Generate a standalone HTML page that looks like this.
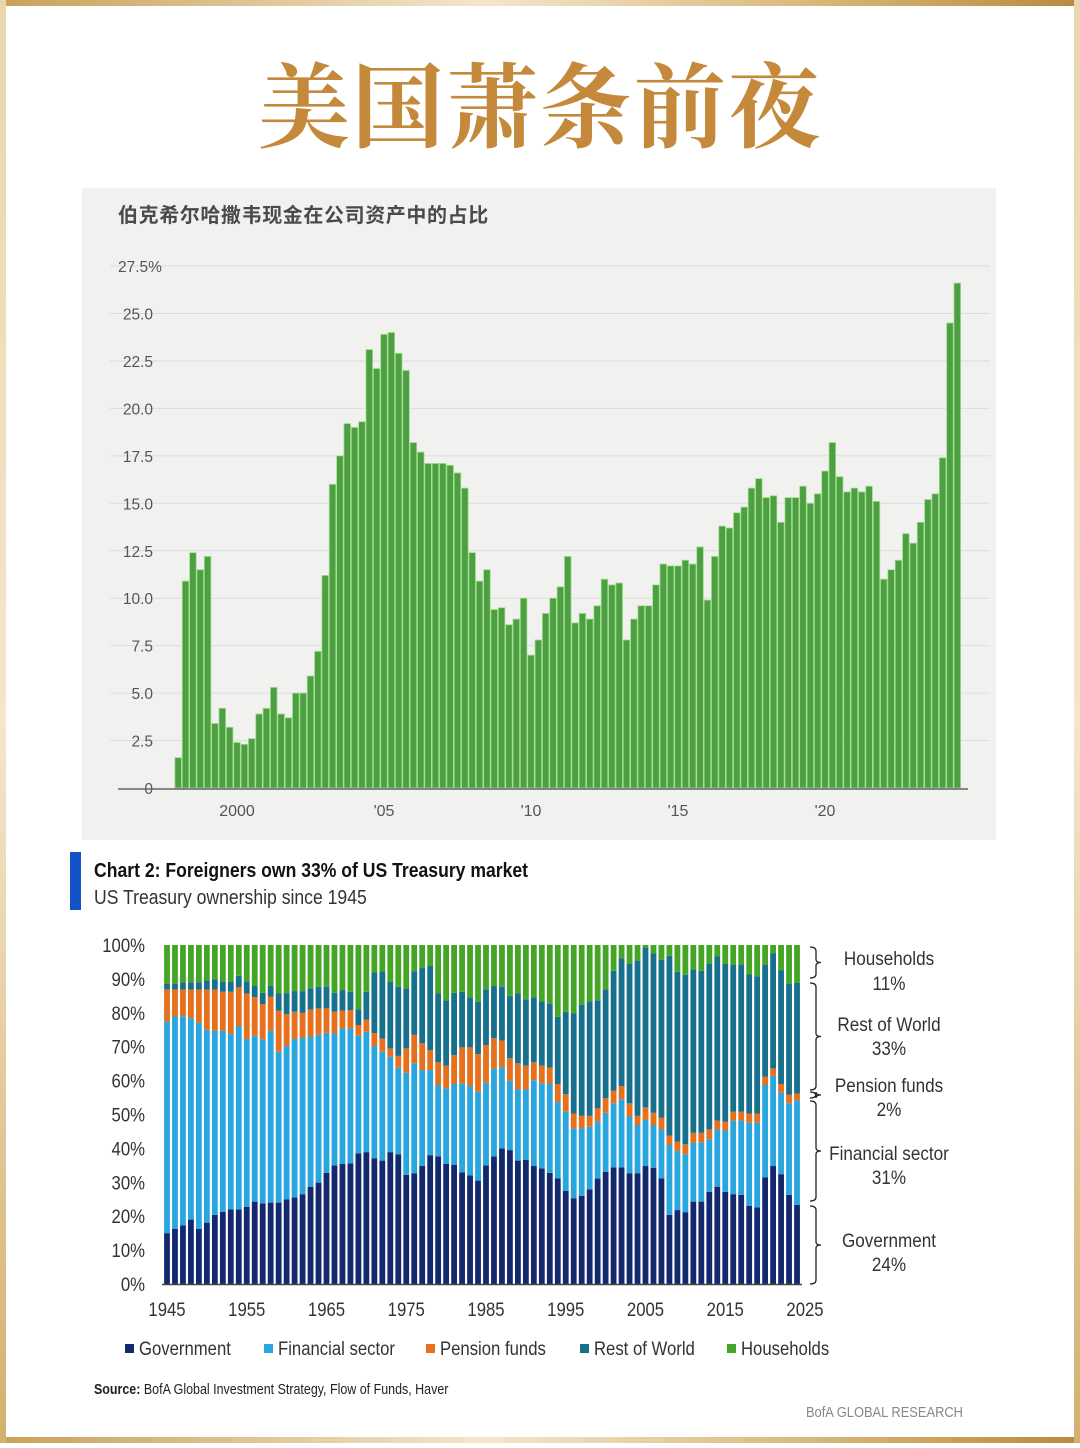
<!DOCTYPE html>
<html><head><meta charset="utf-8"><title>美国萧条前夜</title>
<style>
html,body{margin:0;padding:0;background:#fff;}
body{width:1080px;height:1443px;overflow:hidden;}
svg text{font-family:"Liberation Sans","Noto Sans CJK SC",sans-serif;}
</style></head>
<body>
<svg id="page" width="1080" height="1443" viewBox="0 0 1080 1443" xmlns="http://www.w3.org/2000/svg">
<defs>
<linearGradient id="gold" x1="0" y1="0" x2="1" y2="0">
<stop offset="0" stop-color="#c9a15a"/><stop offset="0.45" stop-color="#f3e6cc"/><stop offset="0.75" stop-color="#d9b87a"/><stop offset="1" stop-color="#b98a3e"/>
</linearGradient>
<linearGradient id="goldv" x1="0" y1="0" x2="0" y2="1">
<stop offset="0" stop-color="#e9d6ac"/><stop offset="0.5" stop-color="#f3e6cc"/><stop offset="1" stop-color="#d4b06f"/>
</linearGradient>
</defs>
<g>
<rect x="0" y="0" width="1080" height="6" fill="url(#gold)"/>
<rect x="0" y="1437" width="1080" height="6" fill="url(#gold)"/>
<rect x="0" y="0" width="6" height="1443" fill="url(#goldv)"/>
<rect x="1074" y="0" width="6" height="1443" fill="url(#goldv)"/>
</g>
<text x="540" y="140" text-anchor="middle" font-size="92" font-weight="700" fill="#c4893a" letter-spacing="2" style="font-family:'Noto Serif CJK SC','Liberation Serif',serif">美国萧条前夜</text>

<g id="top-chart">
<rect x="82" y="188" width="914" height="652" fill="#f1f1f0"/>
<text x="118" y="222" font-size="20" font-weight="700" fill="#4a4a4a" letter-spacing="0.6">伯克希尔哈撒韦现金在公司资产中的占比</text>
<g id="top-grid"></g>
<g id="top-bars"></g>
<g id="top-axis"></g>
</g>

<g id="bottom-chart">
<rect x="70" y="852" width="11" height="58" fill="#1254c8"/>
<text x="94" y="877" font-size="20" font-weight="700" fill="#111" transform="translate(94 0) scale(0.88 1) translate(-94 0)">Chart 2: Foreigners own 33% of US Treasury market</text>
<text x="94" y="904" font-size="20" fill="#333" transform="translate(94 0) scale(0.88 1) translate(-94 0)">US Treasury ownership since 1945</text>
<g id="bot-bars"></g>
<g id="bot-axis"></g>
<g id="bot-annot"></g>
<g id="bot-legend"></g>
<text x="94" y="1394" font-size="14.5" fill="#222" transform="translate(94 0) scale(0.86 1) translate(-94 0)"><tspan font-weight="700">Source:</tspan> BofA Global Investment Strategy, Flow of Funds, Haver</text>
<text x="963" y="1417" text-anchor="end" font-size="15" fill="#888" transform="translate(963 0) scale(0.86 1) translate(-963 0)">BofA GLOBAL RESEARCH</text>
</g>
</svg>
<script>
// ---------- Top chart data (quarterly, from 1998 Q1) ----------
const cashStartYear = 1998;
const cashRatio = [1.6,10.9,12.4,11.5,12.2,3.4,4.2,3.2,2.4,2.3,2.6,3.9,4.2,5.3,3.9,3.7,5.0,5.0,5.9,7.2,
11.2,16.0,17.5,19.2,19.0,19.3,23.1,22.1,23.9,24.0,22.9,22.0,18.2,17.7,17.1,17.1,17.1,17.0,16.6,15.8,
12.4,10.9,11.5,9.4,9.5,8.6,8.9,10.0,7.0,7.8,9.2,10.0,10.6,12.2,8.7,9.2,8.9,9.6,11.0,10.7,
10.8,7.8,8.9,9.6,9.6,10.7,11.8,11.7,11.7,12.0,11.8,12.7,9.9,12.2,13.8,13.7,14.5,14.8,15.8,16.3,
15.3,15.4,14.0,15.3,15.3,15.9,15.0,15.5,16.7,18.2,16.4,15.6,15.8,15.6,15.9,15.1,11.0,11.5,12.0,13.4,
12.9,14.0,15.2,15.5,17.4,24.5,26.6];
const topYTicks = [0,2.5,5,7.5,10,12.5,15,17.5,20,22.5,25,27.5];
const topYTickLabels = ["0","2.5","5.0","7.5","10.0","12.5","15.0","17.5","20.0","22.5","25.0","27.5%"];
const topXTicks = [2000,2005,2010,2015,2020];
const topXTickLabels = ["2000","'05","'10","'15","'20"];

// ---------- Bottom chart data (annual, 1945-2024, % share) ----------
const years = [];
for (let y = 1945; y <= 2024; y++) years.push(y);
const government = [15,16.3,17.3,19,16.3,18.1,20.4,21.3,22,22,22.8,24.3,23.8,24,24,25,25.5,26.5,28.7,29.9,
32.8,35,35.4,35.6,38.5,38.9,37.1,36.4,38.9,38.2,32.2,32.6,34.8,38,37.6,35.4,35.2,32.9,32,30.5,
35,37.6,40,39.5,36.4,36.6,34.8,34.1,32.8,31.2,27.5,25.3,26,27.9,31.1,33.1,34.4,34.4,32.6,32.6,
34.8,34.3,31.2,20.4,21.8,21.2,24.3,24.3,27.2,28.7,27.2,26.5,26.3,23.1,22.6,31.5,34.8,32.4,26.3,23.3];
const financialSector = [62.4,62.6,61.7,59.4,60.8,56.9,54.3,53.4,51.7,54.1,49.5,48.9,48.4,50.7,44.5,45.2,46.8,46.2,44.3,43.6,
41.3,38.9,40,39.8,34.7,35.5,33.1,32.1,28.1,25.6,30.1,32.5,28.3,25.1,21.1,22.3,23.8,26.3,26.4,26.2,
24.4,26,23.9,20.5,21,20.8,25.3,25.1,26.2,22.5,23.3,20.6,19.9,18.5,16.8,17.4,18.9,20.1,16.8,14.3,
13.6,12.6,14.4,20.6,17.4,17.1,17.4,17.5,15.5,16.9,18.2,21.7,21.9,24.5,25,27.2,26.6,24,27,30.8];
const pensionFunds = [9.5,8,7.9,8.5,9.8,11.9,12.2,11.5,12.5,11.4,13.4,11.4,10.4,10.1,12.1,9.4,8,7.3,8,7.8,
7.2,6.4,5.2,5.4,3.2,3.6,3.8,3.9,2.5,3.5,7.2,8.4,7.9,5.9,6.7,6.7,8.5,10.6,11.4,11.1,
11.1,8.9,7.9,6.6,7.7,7,5.3,5.2,4.8,5.3,5.2,4.4,3.7,3.2,3.9,4.3,3.7,3.9,3.9,2.7,
3.7,3.6,3.5,2.8,2.8,2.9,2.9,2.8,2.9,2.6,2.5,2.6,2.6,2.7,2.7,2.5,2.2,2.6,2.5,2.1];
const restOfWorld = [1.6,1.6,2.1,2.1,2.1,2.6,3,3,3,3.4,3.5,3.3,3.3,3.2,5.1,6.1,6.1,6.4,6.2,6.4,
6.4,5.6,6.1,5.4,4.6,8.2,17.9,19.8,19.7,20.4,17.7,18.7,22.2,24.8,20.3,19.3,18.4,16.4,14.8,15.4,
16.4,15.4,15.9,18.4,20.6,19.6,19.2,19,18.8,19.8,24.3,29.5,32.8,33.8,31.9,32.1,35.4,37.7,41.1,45.8,
47.2,47,46.5,53,50.1,50,48.2,47.8,49,48.4,46.5,43.3,43.3,41,40.5,32.9,33.9,33.6,32.7,32.6];
const households = [11.5,11.5,11,11,11,10.5,10.1,10.8,10.8,9.1,10.8,12.1,14.1,12,14.3,14.3,13.6,13.6,12.8,12.3,
12.3,14.1,13.3,13.8,19,13.8,8.1,7.8,10.8,12.3,12.8,7.8,6.8,6.2,14.3,16.3,14.1,13.8,15.4,16.8,
13.1,12.1,12.3,15,14.3,16,15.4,16.6,17.4,21.2,19.7,20.2,17.6,16.6,16.3,13.1,7.6,3.9,5.6,4.6,
0.7,2.5,4.4,3.2,7.9,8.8,7.2,7.6,5.4,3.4,5.6,5.9,5.9,8.7,9.2,5.9,2.5,7.4,11.5,11.2];
const seriesNames = ["Government","Financial sector","Pension funds","Rest of World","Households"];
const botYTicks = [0,10,20,30,40,50,60,70,80,90,100];
const botXTicks = [1945,1955,1965,1975,1985,1995,2005,2015,2025];
const annotLabels = ["Households","Rest of World","Pension funds","Financial sector","Government"];
const annotValues = ["11%","33%","2%","31%","24%"];

const NS = "http://www.w3.org/2000/svg";
function mk(tag, attrs, parent, text){
  const e = document.createElementNS(NS, tag);
  for (const k in attrs) e.setAttribute(k, attrs[k]);
  if (text !== undefined) e.textContent = text;
  parent.appendChild(e);
  return e;
}

// ---- Top chart axes ----
const tY0 = 788, tPx = 18.98;
const tyScale = v => tY0 - v * tPx;
const txScale = t => 237 + (t - 2000) * 29.4;
const tGrid = document.getElementById('top-grid');
const tAxis = document.getElementById('top-axis');
const tBars = document.getElementById('top-bars');
topYTicks.forEach((v, i) => {
  if (v > 0) {
    const gl = mk('line', {x1:110, x2:990, y1:tyScale(v), y2:tyScale(v), stroke:'#dcdcdc', 'stroke-width':1}, tGrid);
    
    
  }
  const last = i === topYTicks.length-1;
  const lbl = mk('text', {x: last ? 118 : 153, y: tyScale(v)+6, 'text-anchor': last ? 'start':'end', 'font-size':15.5, fill:'#555'}, tAxis, topYTickLabels[i]);
  
  
});
cashRatio.forEach((v, i) => {
  const cx = txScale(cashStartYear + i * 0.25);
  const r = mk('rect', {x: cx - 3.3, y: tyScale(v), width: 6.6, height: tY0 - tyScale(v), fill:'#4e9e44', stroke:'#9fe08a', 'stroke-width':0.8}, tBars);
  
  
});
const tBase = mk('line', {x1:118, x2:968, y1:tY0+1, y2:tY0+1, stroke:'#666', 'stroke-width':1.5}, tAxis);


topXTicks.forEach((t, i) => {
  const l = mk('text', {x: txScale(t), y: 816, 'text-anchor':'middle', 'font-size':16, fill:'#555'}, tAxis, topXTickLabels[i]);
  
  
});

// ---- Bottom chart axes ----
const bY0 = 1284, bPx = 3.39;
const byScale = v => bY0 - v * bPx;
const bxScale = y => 167 + (y - 1945) * 7.975;
const bBars = document.getElementById('bot-bars');
const bAxis = document.getElementById('bot-axis');
const colors = ["#14296b","#2aa6de","#e6701c","#16708e","#45a626"];
const allSeries = [government, financialSector, pensionFunds, restOfWorld, households];
years.forEach((yr, i) => {
  let cum = 0;
  allSeries.forEach((s, k) => {
    const v = s[i];
    const r = mk('rect', {x: bxScale(yr) - 2.9, y: byScale(cum + v), width: 5.8, height: v * bPx, fill: colors[k]}, bBars);
    
    
    cum += v;
  });
});
const bBase = mk('line', {x1:162, x2:802, y1:bY0+0.5, y2:bY0+0.5, stroke:'#444', 'stroke-width':1.5}, bAxis);


botYTicks.forEach(v => {
  const l = mk('text', {x:145, y:byScale(v)+7, 'text-anchor':'end', 'font-size':19, fill:'#333', transform:`translate(145 0) scale(0.88 1) translate(-145 0)`}, bAxis, v + '%');
  
  
});
botXTicks.forEach(t => {
  const x = bxScale(t);
  const l = mk('text', {x:x, y:1316, 'text-anchor':'middle', 'font-size':19, fill:'#333', transform:`translate(${x} 0) scale(0.88 1) translate(${-x} 0)`}, bAxis, String(t));
  
  
});

// ---- Right-side brace annotations ----
const bAnn = document.getElementById('bot-annot');
const braces = [[947,978],[983,1090],[1092,1098],[1101,1201],[1206,1284]];
const labelY = [[965,990],[1031,1055],[1092,1116],[1160,1184],[1247,1271]];
braces.forEach((b, i) => {
  const [y1, y2] = b, m = (y1 + y2) / 2;
  const p = mk('path', {d:`M810 ${y1} Q816 ${y1} 816 ${y1+4} L816 ${m-3} Q816 ${m} 821 ${m} Q816 ${m} 816 ${m+3} L816 ${y2-4} Q816 ${y2} 810 ${y2}`, fill:'none', stroke:'#222', 'stroke-width':1.3}, bAnn);
  
  
  const t1 = mk('text', {x:889, y:labelY[i][0], 'text-anchor':'middle', 'font-size':19, fill:'#333', transform:'translate(889 0) scale(0.9 1) translate(-889 0)'}, bAnn, annotLabels[i]);
  
  
  const t2 = mk('text', {x:889, y:labelY[i][1], 'text-anchor':'middle', 'font-size':19, fill:'#333', transform:'translate(889 0) scale(0.9 1) translate(-889 0)'}, bAnn, annotValues[i]);
  
  
});

// ---- Legend ----
const bLeg = document.getElementById('bot-legend');
const legX = [125,264,426,580,727];
seriesNames.forEach((n, i) => {
  const g = mk('g', {}, bLeg);
  
  
  mk('rect', {x:legX[i], y:1344, width:9, height:9, fill:colors[i]}, g);
  const tx = legX[i] + 14;
  mk('text', {x:tx, y:1355, 'font-size':19, fill:'#333', transform:`translate(${tx} 0) scale(0.88 1) translate(${-tx} 0)`}, g, n);
});
</script>
</body></html>
